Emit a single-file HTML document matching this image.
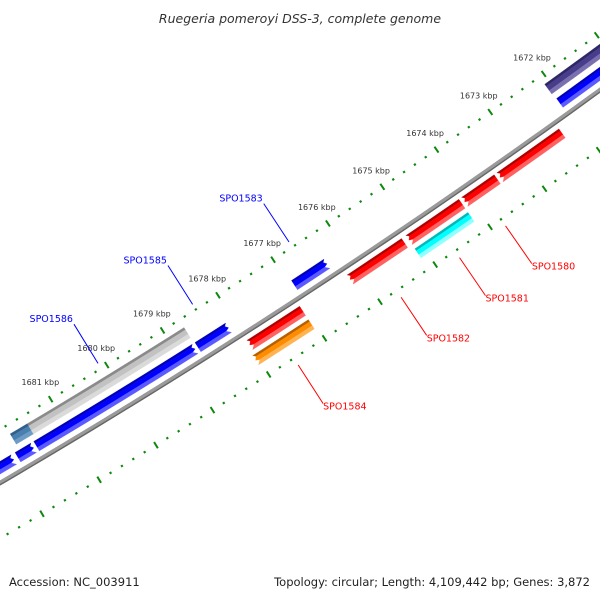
<!DOCTYPE html>
<html><head><meta charset="utf-8"><style>
html,body{margin:0;padding:0;background:#fff;}
svg{display:block;}
text{font-family:"DejaVu Sans","Liberation Sans",sans-serif;}
</style></head><body>
<svg id="map" width="600" height="600" viewBox="0 0 600 600" xmlns="http://www.w3.org/2000/svg">
<rect x="0" y="0" width="600" height="600" fill="#fff"/>
<g id="ticks"></g>
<g id="backbone"></g>
<g id="features"></g>
<g id="labels"></g>
<text x="300" y="23" text-anchor="middle" font-size="12.5" font-style="italic" fill="#333">Ruegeria pomeroyi DSS-3, complete genome</text>
<text x="9" y="586" font-size="11.5" fill="#222">Accession: NC_003911</text>
<text x="590" y="586" text-anchor="end" font-size="11.5" fill="#222">Topology: circular; Length: 4,109,442 bp; Genes: 3,872</text>
</svg>
<script>
// ---- data ----
const tickKbp = [1670,1671,1672,1673,1674,1675,1676,1677,1678,1679,1680,1681,1682,1683];
const tickLabelKbp = [1672,1673,1674,1675,1676,1677,1678,1679,1680,1681];
const featStart = [1678.73,1681.60,1681.95,1678.13,1676.35,1671.00,1678.70,1681.50,1671.00,1677.05,1675.20,1674.15,1673.50,1672.30,1677.05,1674.15];
const featEnd   = [1681.55,1681.88,1683.00,1678.68,1676.94,1672.06,1681.50,1681.80,1672.08,1678.00,1676.19,1675.12,1674.10,1673.45,1678.05,1675.12];
const featDir   = [-1,-1,-1,-1,-1,-1,0,0,0,1,1,1,1,1,1,0];
const featTrack = [1,1,1,1,1,1,0,0,0,2,2,2,2,2,3,3];
const featType  = ['blue','blue','blue','blue','blue','blue','gray','steel','slate','red','red','red','red','red','orange','cyan'];
const labelNames = ['SPO1586','SPO1585','SPO1583','SPO1584','SPO1582','SPO1581','SPO1580'];
const labelKbp   = [1680.10,1678.40,1676.65,1677.55,1675.70,1674.64,1673.80];
const labelSide  = [-1,-1,-1,1,1,1,1];

// ---- geometry (axis functions) ----
const R0 = 7200, TH0 = 0.9910, K0 = 1676.88, DTH = 0.009177;
const MX = 304.9, MY = 293.8;
const CX = MX - R0*Math.cos(TH0), CY = MY - R0*Math.sin(TH0);
function pt(k, v){ const th = TH0 + (k-K0)*DTH, r = R0 + v; return [CX + r*Math.cos(th), CY + r*Math.sin(th)]; }
const trackV = [-31, -13, 13, 29];
const trackHW = [6, 5.5, 5.5, 5.5];
const palette = {
  blue:['#0000b8','#0000ff','#5a5aff'], gray:['#8a8a8a','#c2c2c2','#dadada'],
  steel:['#2f5f8a','#4a80b0','#6f9cc6'], slate:['#2e2766','#483d8b','#7a70b0'],
  red:['#b00000','#ff0000','#ff6060'], orange:['#b86000','#ff8c00','#ffb454'],
  cyan:['#00b8b8','#00ffff','#90ffff']
};
const NS = 'http://www.w3.org/2000/svg';
function mk(tag, attrs, parent){ const e = document.createElementNS(NS, tag); for (const a in attrs) e.setAttribute(a, attrs[a]); parent.appendChild(e); return e; }
function fmt(p){ return p[0].toFixed(2)+','+p[1].toFixed(2); }

// backbone
const bb = document.getElementById('backbone');
function arcPath(v){ let d=''; for(let k=1669.5;k<=1684;k+=0.25){ const p=pt(k,v); d+=(d?'L':'M')+fmt(p);} return d; }
const bbMain = mk('path',{d:arcPath(0),fill:'none',stroke:'#9a9a9a','stroke-width':4.2},bb);


const bbShade = mk('path',{d:arcPath(1.8),fill:'none',stroke:'#666','stroke-width':1.4},bb);



// ticks
const tg = document.getElementById('ticks');
[-46, 48].forEach(function(vr, ri){
  for (let i=0;i<tickKbp.length;i++){
    for (let j=0;j<5;j++){
      const k = tickKbp[i] + j*0.2;
      const major = j===0;
      const a = pt(k, vr - (major?3.6:1.1)), b = pt(k, vr + (major?3.6:1.1));
      const ln = mk('line',{x1:a[0],y1:a[1],x2:b[0],y2:b[1],stroke:'#0d880d','stroke-width':major?2:2.2},tg);
      
      
    }
  }
});
for (let i=0;i<tickLabelKbp.length;i++){
  const p = pt(tickLabelKbp[i], -66);
  const t = mk('text',{x:p[0],y:p[1]+3,'text-anchor':'middle','font-size':8,fill:'#333'},tg);
  t.textContent = tickLabelKbp[i] + ' kbp';
  
  
}

// features
const fg = document.getElementById('features');
const AH = 0.085;
function band(k1,k2,dir,vc,hw,vt,vb){
  function tipK(v){ return dir<0 ? k1 + AH*(1-Math.abs(v-vc)/hw) : k2 - AH*(1-Math.abs(v-vc)/hw); }
  let a1 = k1, a2 = k2;
  const pts = [];
  const n = Math.max(2, Math.ceil((k2-k1)/0.3));
  // top edge
  const s1 = dir<0 ? tipK(vt) : k1, s2 = dir>0 ? tipK(vt) : k2;
  for (let i=0;i<=n;i++) pts.push(pt(s1+(s2-s1)*i/n, vt));
  if (dir>0 && vt<vc && vb>vc) pts.push(pt(k2, vc));
  const e1 = dir<0 ? tipK(vb) : k1, e2 = dir>0 ? tipK(vb) : k2;
  for (let i=n;i>=0;i--) pts.push(pt(e1+(e2-e1)*i/n, vb));
  if (dir<0 && vt<vc && vb>vc) pts.push(pt(k1, vc));
  return pts.map(fmt).join(' ');
}
for (let i=0;i<featStart.length;i++){
  const g = mk('g',{},fg);
  
  
  const vc = trackV[featTrack[i]], hw = trackHW[featTrack[i]], c = palette[featType[i]];
  const k1 = featStart[i], k2 = featEnd[i], d = featDir[i];
  const bands = [[vc-hw, vc-0.55*hw, c[0]], [vc-0.55*hw, vc+0.3*hw, c[1]], [vc+0.3*hw, vc+hw, c[2]]];
  bands.forEach(function(bd){
    const pg = mk('polygon',{points:band(k1,k2,d,vc,hw,bd[0],bd[1]),fill:bd[2],stroke:bd[2],'stroke-width':0.3},g);
    
    
  });
}

// labels
const lg = document.getElementById('labels');
for (let i=0;i<labelNames.length;i++){
  const s = labelSide[i];
  const col = s<0 ? '#0000ff' : '#ff0000';
  const a = pt(labelKbp[i], s<0 ? -52 : 56), b = pt(labelKbp[i], s<0 ? -98 : 102);
  const ln = mk('line',{x1:a[0],y1:a[1],x2:b[0],y2:b[1],stroke:col,'stroke-width':1},lg);
  
  
  const t = mk('text', s<0 ? {x:b[0]-1,y:b[1]-2,'text-anchor':'end','font-size':9.5,fill:col} : {x:b[0],y:b[1]+6,'text-anchor':'start','font-size':9.5,fill:col}, lg);
  t.textContent = labelNames[i];
  
  
}
</script>
</body></html>
